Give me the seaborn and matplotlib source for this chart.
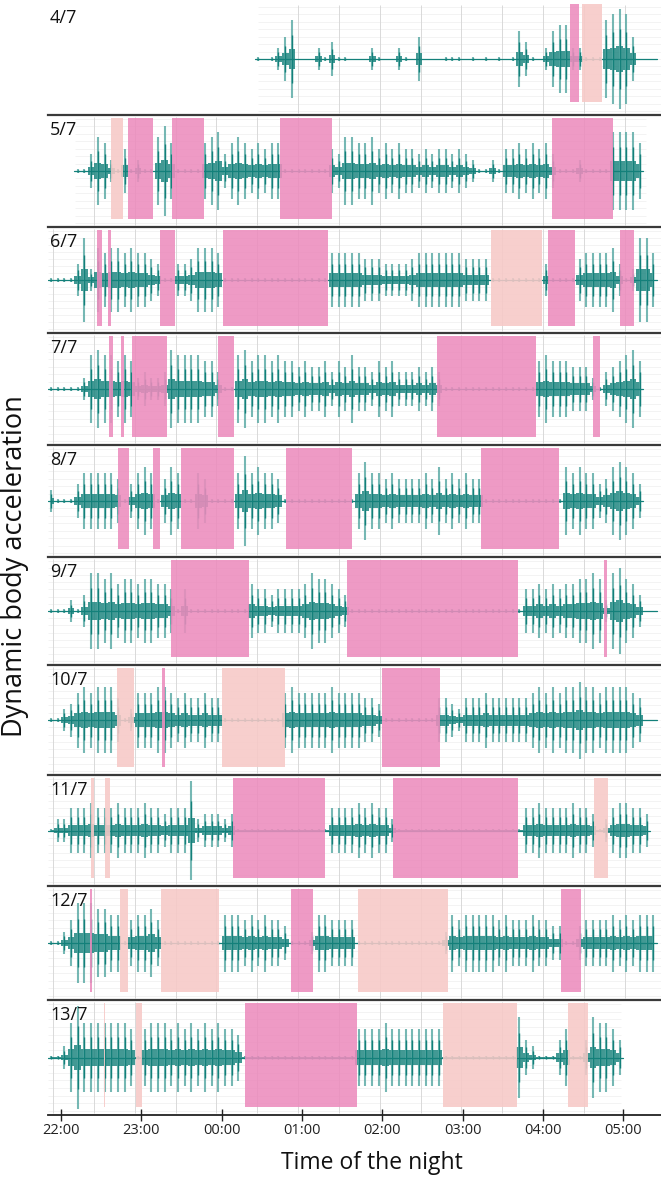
import numpy as np
import pandas as pd
import matplotlib
matplotlib.use("Agg")
import matplotlib.pyplot as plt
import seaborn as sns

sns.set_theme(style="white")
plt.rcParams['font.family'] = ['Open Sans', 'DejaVu Sans']

# ---------------- data ----------------
nights = ["4/7", "5/7", "6/7", "7/7", "8/7", "9/7", "10/7", "11/7", "12/7", "13/7"]
hour_labels = ["22:00", "23:00", "00:00", "01:00", "02:00", "03:00", "04:00", "05:00"]

# activity level per 5-min bin (0 = flat, 9 = very high); bin k starts at 21:50 + 5k min
first_bin = [31, 4, 0, 0, 0, 0, 0, 0, 0, 0]
act_04 = [1,0,1,2,4,7,0,0,0,2, 1,3,1,1,0,0,0,2,1,0, 0,2,1,0,4,0,0,0,1,1,
          1,0,1,0,1,0,1,0,1,5, 3,1,0,2,5,6,6,2,2,1, 1,1,7,8,9,8,4,0,0,0]
act_05 = [1,1,3,6,5,2,1,4,1,2, 1,1,6,8,5,1,1,1,1,5, 6,7,3,5,6,5,4,5,4,5,
          5,1,1,1,1,1,1,1,4,3, 6,6,5,5,6,4,5,4,5,4, 4,3,4,3,4,4,3,4,3,2,
          1,1,2,1,4,4,5,4,5,4, 5,3,1,1,1,2,1,1,1,1, 7,7,7,7,5]
act_06 = [1,1,1,1,3,8,2,6,5,6, 6,5,6,5,5,4,3,1,1,3, 3,4,6,6,6,5,1,1,1,1,
          1,1,1,1,1,1,1,1,1,1, 1,1,5,5,5,5,5,4,4,4, 3,3,3,3,4,5,5,5,5,5,
          5,5,4,4,4,4,1,1,1,1, 1,1,1,1,3,1,1,1,1,4, 5,5,5,5,6,3,1,2,8,8, 5]
act_07 = [1,1,1,1,1,2,6,7,6,6, 5,6,5,2,3,2,2,3,7,6, 6,6,6,5,5,3,1,1,6,7,
          5,6,6,5,6,5,5,4,5,4, 4,5,3,5,4,6,4,4,3,5, 4,5,3,3,3,4,3,4,3,1,
          1,1,1,1,1,1,1,1,1,1, 1,1,1,5,6,5,5,5,4,4, 4,2,1,3,4,5,6,7,5]
act_08 = [2,1,1,1,3,5,5,5,5,5, 4,1,3,5,6,5,1,4,6,5, 1,1,5,4,1,1,1,1,5,8,
          5,6,5,5,4,1,1,1,1,1, 1,1,1,1,1,1,5,7,5,5, 4,5,4,4,4,4,5,4,6,4,
          5,4,5,4,4,1,1,1,1,1, 1,1,1,1,1,1,1,6,5,6, 5,5,3,4,6,7,6,5,3]
act_09 = [1,1,1,2,1,3,7,7,6,7, 5,6,6,5,6,6,5,5,4,1, 4,1,1,1,1,1,1,1,1,1,
          5,4,4,3,4,4,4,4,5,7, 6,6,5,4,3,1,1,1,1,1, 1,1,1,1,1,1,1,1,1,1,
          1,1,1,1,1,1,1,1,1,1, 1,4,4,5,4,5,4,5,5,6, 6,7,6,2,7,8,6,5,3,0, 0]
act_10 = [1,1,2,3,5,6,5,6,6,6, 4,1,2,5,5,5,6,6,5,4, 5,4,4,5,4,4,1,1,1,1,
          1,1,1,1,1,5,6,5,5,5, 5,5,6,5,5,5,5,4,4,3, 1,1,1,1,1,1,1,1,4,4,
          3,2,4,4,4,5,4,4,4,4, 4,4,5,6,5,6,5,6,6,7, 6,6,5,6,6,6,6,5,4,0, 0]
act_11 = [1,2,2,4,4,4,5,4,4,4, 5,4,4,4,5,4,4,3,4,4, 4,9,2,3,3,3,2,3,1,1,
          1,1,1,1,1,1,1,1,1,1, 1,1,4,4,4,4,5,4,5,4, 4,2,1,1,1,1,1,1,1,1,
          1,1,1,1,1,1,1,1,1,1, 1,4,4,5,4,4,4,4,5,4, 4,3,1,2,4,5,5,4,4,3]
act_12 = [1,1,2,4,7,7,7,6,6,5, 5,1,4,5,5,6,4,1,1,1, 1,1,1,1,1,1,5,5,5,4,
          5,4,5,4,4,3,1,1,1,2, 5,5,4,4,4,4,1,1,1,1, 1,1,1,1,1,1,1,1,1,2,
          5,4,5,5,5,5,5,4,5,4, 4,4,5,4,4,3,3,1,1,3, 4,4,4,4,5,4,5,4,5,5, 5]
act_13 = [1,1,2,6,9,6,6,6,6,6, 6,6,5,1,5,6,6,6,5,6, 5,6,5,6,5,6,5,5,4,1,
          1,1,1,1,1,1,1,1,1,1, 1,1,1,1,1,1,5,5,5,5, 6,5,5,5,5,5,5,5,5,1,
          1,1,1,1,1,1,1,1,1,1, 7,3,2,1,1,1,3,5,1,1, 3,7,6,6,5,3]
activity = [act_04, act_05, act_06, act_07, act_08, act_09, act_10, act_11, act_12, act_13]

# rest bouts: (start, end) in hours after 22:00, 'd' = confirmed sleep, 'l' = probable
rest_04 = [(6.34, 6.45, 'd'), (6.49, 6.74, 'l')]
rest_05 = [(0.62, 0.77, 'l'), (0.84, 1.14, 'd'), (1.38, 1.78, 'd'), (2.73, 3.38, 'd'), (6.12, 6.88, 'd')]
rest_06 = [(0.45, 0.51, 'd'), (0.58, 0.62, 'd'), (1.23, 1.42, 'd'), (2.02, 3.32, 'd'),
           (5.35, 5.99, 'l'), (6.06, 6.40, 'd'), (6.96, 7.14, 'd')]
rest_07 = [(0.60, 0.65, 'd'), (0.75, 0.79, 'd'), (0.88, 1.32, 'd'), (1.95, 2.16, 'd'),
           (4.68, 5.91, 'd'), (6.63, 6.71, 'd')]
rest_08 = [(0.71, 0.85, 'd'), (1.14, 1.23, 'd'), (1.49, 2.16, 'd'), (2.80, 3.62, 'd'), (5.23, 6.20, 'd')]
rest_09 = [(1.37, 2.34, 'd'), (3.56, 5.69, 'd'), (6.76, 6.80, 'd')]
rest_10 = [(0.70, 0.91, 'l'), (1.26, 1.29, 'd'), (2.01, 2.79, 'l'), (4.00, 4.72, 'd')]
rest_11 = [(0.37, 0.41, 'l'), (0.55, 0.61, 'l'), (2.14, 3.29, 'd'), (4.14, 5.69, 'd'), (6.64, 6.81, 'l')]
rest_12 = [(0.36, 0.38, 'd'), (0.74, 0.83, 'l'), (1.25, 1.97, 'l'), (2.86, 3.14, 'd'),
           (3.70, 4.82, 'l'), (6.23, 6.47, 'd')]
rest_13 = [(0.53, 0.55, 'l'), (0.94, 1.01, 'l'), (2.29, 3.69, 'd'), (4.76, 5.68, 'l'), (6.32, 6.56, 'l')]
rests = [rest_04, rest_05, rest_06, rest_07, rest_08, rest_09, rest_10, rest_11, rest_12, rest_13]

# recorded span of each night's screenshot (hours after 22:00)
record_span = [(2.45, 7.47), (0.17, 7.28), (-0.16, 7.47), (-0.16, 7.47), (-0.16, 7.47),
               (-0.16, 7.47), (-0.16, 7.47), (-0.16, 7.47), (-0.16, 7.47), (-0.16, 6.97)]

# ---------------- style / layout ----------------
W, H = 661, 1181
TEAL = "#13807a"
TEAL_L = "#5eaca7"
PINK = {'d': "#ec8cbd", 'l': "#f7c9c7"}
XMIN, XMAX = -0.162, 7.472
tops = [3, 115, 227, 333, 445, 557, 665, 775, 886, 1000]
bots = [115, 227, 333, 445, 557, 665, 775, 886, 1000, 1115]

fig = plt.figure(figsize=(W / 100, H / 100), dpi=100)

for i, name in enumerate(nights):
    t, b = tops[i], bots[i]
    ax = fig.add_axes([48 / W, 1 - b / H, (W - 48) / W, (b - t) / H])
    ax.set_xlim(XMIN, XMAX)
    ax.set_ylim(-1, 1)
    ax.patch.set_alpha(0)

    xs, xe = record_span[i]
    gx = -0.10 + 0.5087 * np.arange(16)
    gx = gx[(gx >= xs) & (gx <= xe)]
    gy = np.linspace(-0.93, 0.93, 15)
    ax.hlines(gy, xs, xe, color="#eeeeee", lw=0.5, zorder=0)
    ax.vlines(gx, -0.97, 0.97, color="#d9d9d9", lw=0.7, zorder=0)

    v = np.asarray(activity[i], dtype=float)
    x = -0.125 + (first_bin[i] + np.arange(len(v))) / 12
    amp = np.where(v <= 1, 0.03 * v, 0.1 * v)
    df = pd.DataFrame({"t": x, "amp": amp})

    ax.fill_between(df.t, -0.25 * amp, 0.25 * amp, color=TEAL, alpha=0.8, lw=0,
                    step="mid", zorder=3)
    ax.vlines(df.t, -amp, amp, color=TEAL_L, lw=1.5, alpha=0.85, zorder=3)
    ax.vlines(df.t, -0.6 * amp, 0.6 * amp, color=TEAL, lw=1.0, zorder=3)
    base = pd.DataFrame({"t": [x[0] - 1 / 24, x[-1] + 1 / 24], "y": [0, 0]})
    sns.lineplot(data=base, x="t", y="y", ax=ax, color=TEAL, lw=0.9, zorder=3)

    ymin, ymax = (0.12, 0.995) if i == 0 else (0.07, 0.975)
    for s, e, k in rests[i]:
        ax.axvspan(s, e, ymin=ymin, ymax=ymax, color=PINK[k], alpha=0.88, lw=0, zorder=4)

    ax.set_xlabel("")
    ax.set_ylabel("")
    ax.set_yticks([])
    for sp in ["left", "right"]:
        ax.spines[sp].set_visible(False)
    ax.spines["top"].set_visible(i > 0)
    ax.spines["top"].set_color("#3a3a3a")
    ax.spines["top"].set_linewidth(1.6)
    if i == len(nights) - 1:
        ax.spines["bottom"].set_color("#222222")
        ax.spines["bottom"].set_linewidth(1.3)
        ax.set_xticks(range(len(hour_labels)))
        ax.set_xticklabels(hour_labels, fontsize=10.5)
        ax.tick_params(axis="x", direction="inout", length=8, width=1.0,
                       colors="#222222", pad=1.5, bottom=True)
    else:
        ax.spines["bottom"].set_visible(False)
        ax.set_xticks([])

    fig.text(50 / W, 1 - (t + 6) / H, name, ha="left", va="top", fontsize=13, color="#111111")

fig.text(15 / W, 1 - 566 / H, "Dynamic body acceleration", rotation=90,
         ha="center", va="center", fontsize=19.5, color="#111111")
fig.text(372 / W, 1 - 1163 / H, "Time of the night", ha="center", va="center",
         fontsize=16.5, color="#111111")

fig.savefig("out.png", dpi=100)
